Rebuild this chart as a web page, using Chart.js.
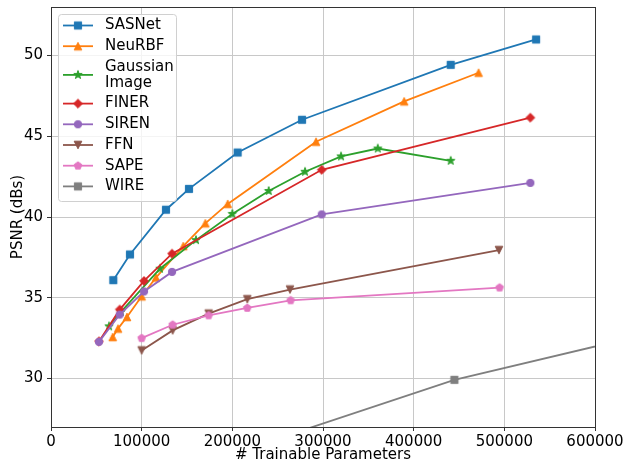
<!DOCTYPE html>
<html>
<head>
<meta charset="utf-8">
<script src="https://cdn.jsdelivr.net/npm/chart.js@4.4.1/dist/chart.umd.min.js"></script>
<style>
  html, body { margin: 0; padding: 0; background: #fff; }
  #wrap { width: 636px; height: 460px; }
</style>
</head>
<body>
<div id="wrap"><canvas id="psnrChart" width="636" height="460"></canvas></div>
<script>
// series names (legend order)
var names = ["SASNet", "NeuRBF", "Gaussian\nImage", "FINER", "SIREN", "FFN", "SAPE", "WIRE"];

// values
var sasnetX = [68700, 87100, 126800, 152200, 205900, 276900, 440900, 535000];
var sasnetY = [36.09, 37.68, 40.45, 41.74, 43.99, 46.02, 49.42, 50.99];

var neurbfX = [68100, 73900, 83800, 100000, 115800, 145900, 170200, 194900, 292300, 389500, 471600];
var neurbfY = [32.57, 33.09, 33.81, 35.09, 36.25, 38.2, 39.61, 40.81, 44.66, 47.16, 48.93];

var gaussX = [64000, 77200, 120200, 159900, 200000, 240100, 280200, 319900, 360400, 440900];
var gaussY = [33.23, 34.13, 36.8, 38.57, 40.19, 41.61, 42.8, 43.75, 44.24, 43.48];

var finerX = [52900, 75800, 102600, 133500, 298600, 528700];
var finerY = [32.3, 34.27, 36.04, 37.73, 42.92, 46.15];

var sirenX = [52900, 75800, 102600, 133500, 298600, 528700];
var sirenY = [32.27, 33.96, 35.39, 36.6, 40.16, 42.11];

var ffnX = [100000, 134200, 173900, 216500, 263600, 494100];
var ffnY = [31.74, 32.98, 34.02, 34.91, 35.51, 37.95];

var sapeX = [100000, 134200, 173900, 216500, 264300, 494800];
var sapeY = [32.5, 33.33, 33.91, 34.37, 34.84, 35.63];

var wireX = [200000, 444900, 650000];
var wireY = [25.35, 29.92, 32.65];

var xTicks = [0, 100000, 200000, 300000, 400000, 500000, 600000];
var yTicks = [30, 35, 40, 45, 50];

var colors = ["#1f77b4", "#ff7f0e", "#2ca02c", "#d62728", "#9467bd", "#8c564b", "#e377c2", "#7f7f7f"];
var shapes = ["square", "triUp", "star", "diamond", "circle", "triDown", "pentagon", "square"];
var xs = [sasnetX, neurbfX, gaussX, finerX, sirenX, ffnX, sapeX, wireX];
var ys = [sasnetY, neurbfY, gaussY, finerY, sirenY, ffnY, sapeY, wireY];

var FONT = "'DejaVu Sans', 'Liberation Sans', sans-serif";

// small canvases used as point markers (matplotlib-like shapes)
function makeMarker(shape, color) {
  var c = document.createElement("canvas");
  c.width = 14;
  c.height = 14;
  var g = c.getContext("2d");
  g.translate(7, 7);
  g.fillStyle = color;
  g.strokeStyle = color;
  g.lineWidth = 1;
  g.lineJoin = "miter";
  g.beginPath();
  var i, a, r;
  if (shape == "square") {
    g.rect(-3.6, -3.6, 7.2, 7.2);
  } else if (shape == "triUp") {
    g.moveTo(0, -3.8); g.lineTo(-3.8, 3.8); g.lineTo(3.8, 3.8); g.closePath();
  } else if (shape == "triDown") {
    g.moveTo(0, 3.8); g.lineTo(-3.8, -3.8); g.lineTo(3.8, -3.8); g.closePath();
  } else if (shape == "diamond") {
    g.moveTo(0, -4.4); g.lineTo(4.4, 0); g.lineTo(0, 4.4); g.lineTo(-4.4, 0); g.closePath();
  } else if (shape == "circle") {
    g.arc(0, 0, 3.7, 0, Math.PI * 2);
  } else if (shape == "pentagon") {
    for (i = 0; i < 5; i++) {
      a = -Math.PI / 2 + i * 2 * Math.PI / 5;
      if (i == 0) g.moveTo(4 * Math.cos(a), 4 * Math.sin(a));
      else g.lineTo(4 * Math.cos(a), 4 * Math.sin(a));
    }
    g.closePath();
  } else if (shape == "star") {
    for (i = 0; i < 10; i++) {
      a = -Math.PI / 2 + i * Math.PI / 5;
      r = i % 2 == 0 ? 4.4 : 1.75;
      if (i == 0) g.moveTo(r * Math.cos(a), r * Math.sin(a));
      else g.lineTo(r * Math.cos(a), r * Math.sin(a));
    }
    g.closePath();
  }
  g.fill();
  g.stroke();
  return c;
}

var markers = shapes.map(function (s, i) { return makeMarker(s, colors[i]); });

var datasets = names.map(function (n, i) {
  return {
    label: n,
    data: xs[i].map(function (x, k) { return { x: x, y: ys[i][k] }; }),
    borderColor: colors[i],
    backgroundColor: colors[i],
    borderWidth: 1.8,
    pointStyle: markers[i],
    pointRadius: 5,
    pointHoverRadius: 5,
    tension: 0,
    fill: false,
    order: names.length - i
  };
});

// frame around the plot (matplotlib spines)
var framePlugin = {
  id: "frame",
  afterDatasetsDraw: function (chart) {
    var a = chart.chartArea, ctx = chart.ctx;
    ctx.save();
    ctx.strokeStyle = "#333";
    ctx.lineWidth = 1;
    ctx.strokeRect(Math.round(a.left) + 0.5, Math.round(a.top) + 0.5,
      Math.round(a.right - a.left), Math.round(a.bottom - a.top));
    ctx.restore();
  }
};

// legend drawn inside the plot, upper left
var legendPlugin = {
  id: "insideLegend",
  afterDraw: function (chart) {
    var a = chart.chartArea, ctx = chart.ctx;
    var bx = a.left + 7, by = a.top + 7, bw = 118, bh = 187;
    ctx.save();
    ctx.beginPath();
    ctx.roundRect(bx + 0.5, by + 0.5, bw, bh, 3);
    ctx.fillStyle = "rgba(255,255,255,0.8)";
    ctx.fill();
    ctx.strokeStyle = "#d0d0d0";
    ctx.lineWidth = 1;
    ctx.stroke();

    ctx.font = "15px " + FONT;
    ctx.textBaseline = "middle";
    ctx.textAlign = "left";
    var y = by + 11.5;
    names.forEach(function (n, i) {
      var lines = n.split("\n");
      var cy = y + (lines.length - 1) * 8;
      ctx.beginPath();
      ctx.moveTo(bx + 5, cy);
      ctx.lineTo(bx + 35, cy);
      ctx.strokeStyle = colors[i];
      ctx.lineWidth = 1.8;
      ctx.stroke();
      ctx.drawImage(markers[i], bx + 20 - 7, cy - 7);
      ctx.fillStyle = "#000";
      lines.forEach(function (t, k) {
        ctx.fillText(t, bx + 47, y + k * 16);
      });
      y += 20.7 + (lines.length - 1) * 16;
    });
    ctx.restore();
  }
};

var ctx = document.getElementById("psnrChart").getContext("2d");
new Chart(ctx, {
  type: "line",
  data: { datasets: datasets },
  options: {
    responsive: false,
    animation: false,
    devicePixelRatio: 1,
    layout: { padding: { left: 0, right: 41, top: 7, bottom: 0 } },
    plugins: {
      legend: { display: false },
      tooltip: { enabled: false }
    },
    scales: {
      x: {
        type: "linear",
        min: 0,
        max: 600000,
        afterBuildTicks: function (scale) {
          scale.ticks = xTicks.map(function (v) { return { value: v }; });
        },
        afterFit: function (scale) { scale.height = 33; },
        ticks: {
          color: "#000",
          padding: 2,
          maxRotation: 0,
          font: { family: FONT, size: 15 },
          callback: function (v) { return String(v); }
        },
        grid: { color: "#c8c8c8", lineWidth: 1, tickColor: "#333", tickLength: 4 },
        border: { color: "#333" },
        title: {
          display: true,
          text: "# Trainable Parameters",
          color: "#000",
          font: { family: FONT, size: 15, lineHeight: 1.2 },
          padding: { top: 0, bottom: -4.5 }
        }
      },
      y: {
        type: "linear",
        min: 27,
        max: 53,
        afterBuildTicks: function (scale) {
          scale.ticks = yTicks.map(function (v) { return { value: v }; });
        },
        afterFit: function (scale) {
          scale.width = 51;
          scale.paddingTop = 0;
          scale.paddingBottom = 0;
        },
        ticks: {
          color: "#000",
          padding: 4,
          font: { family: FONT, size: 15 },
          callback: function (v) { return String(v); }
        },
        grid: { color: "#c8c8c8", lineWidth: 1, tickColor: "#333", tickLength: 4 },
        border: { color: "#333" },
        title: {
          display: true,
          text: "PSNR (dBs)",
          color: "#000",
          font: { family: FONT, size: 15, lineHeight: 1.2 },
          padding: { top: 9.5, bottom: 0 }
        }
      }
    }
  },
  plugins: [framePlugin, legendPlugin]
});
</script>
</body>
</html>
